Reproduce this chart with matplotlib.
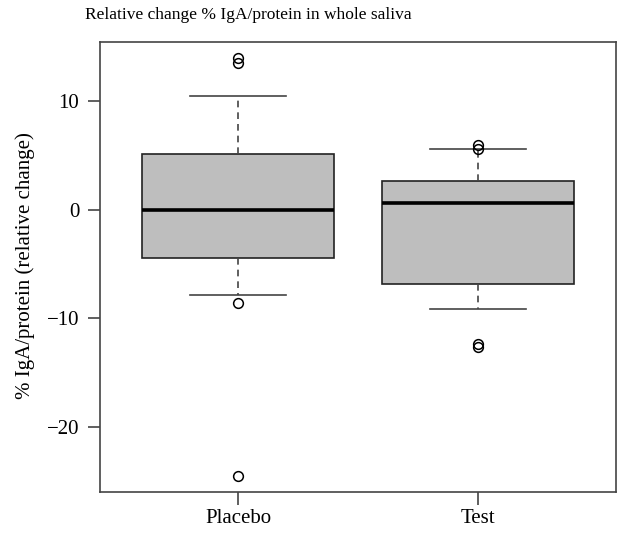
import matplotlib
matplotlib.use("Agg")
import matplotlib.pyplot as plt

plt.rcParams['font.family'] = ['Liberation Serif', 'DejaVu Serif']

groups = ['Placebo', 'Test']
medians = [0.0, 0.65]
q1 = [-4.4, -6.8]
q3 = [5.15, 2.65]
whisker_low = [-7.9, -9.1]
whisker_high = [10.5, 5.6]
outliers = [[13.5, 14.0, -8.6, -24.5], [5.6, 6.0, -12.4, -12.6]]

stats = []
for i, g in enumerate(groups):
    stats.append({'label': g, 'med': medians[i], 'q1': q1[i], 'q3': q3[i],
                  'whislo': whisker_low[i], 'whishi': whisker_high[i],
                  'fliers': outliers[i]})

fig = plt.figure(figsize=(6.17, 5.33), dpi=100)
ax = fig.add_axes([100 / 617, 41 / 533, 516 / 617, 450 / 533])

ax.bxp(stats, positions=[1, 2], widths=0.8, patch_artist=True,
       boxprops=dict(facecolor='#bebebe', edgecolor='#222222', linewidth=1.2),
       medianprops=dict(color='black', linewidth=2.6),
       whiskerprops=dict(color='#444444', linewidth=1.2, linestyle=(0, (4, 3))),
       capprops=dict(color='#444444', linewidth=1.2),
       capwidths=0.4,
       flierprops=dict(marker='o', markerfacecolor='none', markeredgecolor='black',
                       markersize=7, markeredgewidth=1.1))

ax.set_xlim(0.425, 2.575)
ax.set_ylim(-26.0, 15.45)
ax.set_yticks([-20, -10, 0, 10])
ax.set_xticks([1, 2])
ax.set_xticklabels(groups)
for s in ax.spines.values():
    s.set_color('#444444')
    s.set_linewidth(1.2)
ax.tick_params(axis='both', direction='out', length=9, width=1.2, color='#444444',
               labelsize=15)
ax.tick_params(axis='y', pad=6)
ax.tick_params(axis='x', pad=3)

fig.text(85 / 617, 1 - 15 / 533, 'Relative change % IgA/protein in whole saliva',
         ha='left', va='center', fontsize=12.5)
fig.text(25 / 617, 1 - 266 / 533, '% IgA/protein (relative change)',
         rotation=90, ha='center', va='center', fontsize=15)

fig.savefig('out.png', dpi=100)
